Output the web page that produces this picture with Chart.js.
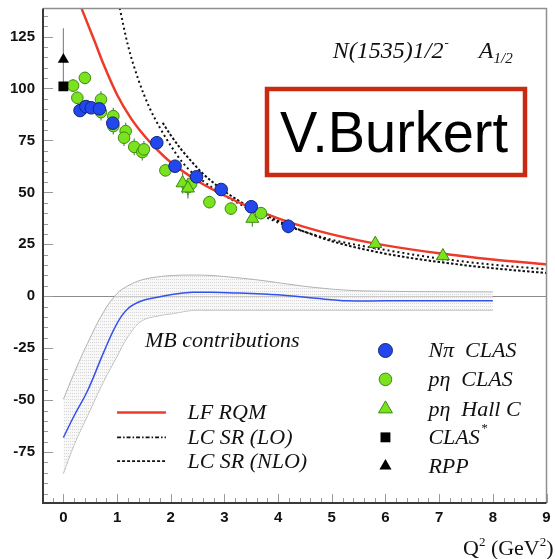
<!DOCTYPE html>
<html>
<head>
<meta charset="utf-8">
<script src="https://cdn.jsdelivr.net/npm/chart.js@4.4.1/dist/chart.umd.min.js"></script>
<style>
html, body { margin: 0; padding: 0; background: #fff; overflow: hidden; }
#wrap { width: 555px; height: 559px; }
</style>
</head>
<body>
<div id="wrap"><canvas id="a12Chart" width="555" height="559"></canvas></div>
<script>
// ===============================
//  DATA
// ===============================
// LF RQM (red solid)
const rqmQ2 = [0.30, 0.5, 0.6, 0.75, 1.0, 1.25, 1.5, 1.75, 2.0, 2.5, 3.0, 3.5, 4.0, 4.5, 5.0, 5.5, 6.0, 7.0, 8.0, 9.0];
const rqmA  = [141, 128, 121.5, 111.5, 97, 86, 77.5, 70.5, 64.5, 55.5, 48.5, 42.5, 37.5, 33.3, 29.8, 26.9, 24.5, 20.7, 17.7, 15.3];

// LC SR (LO)
const loQ2 = [1.03, 1.2, 1.4, 1.6, 1.8, 2.0, 2.2, 2.4, 2.6, 2.8, 3.0, 3.5, 4.0, 4.5, 5.0, 6.0, 7.0, 8.0, 9.0];
const loA  = [141, 121, 104, 91, 81, 72.5, 65, 59.5, 55.5, 51.8, 48.5, 41.5, 35.5, 31, 27.2, 22.3, 18.2, 15.2, 13];

// LC SR (NLO)
const nloQ2 = [1.85, 2.0, 2.2, 2.4, 2.6, 2.8, 3.0, 3.5, 4.0, 4.5, 5.0, 6.0, 7.0, 8.0, 9.0];
const nloA  = [83.5, 77.5, 70.5, 64.5, 59, 54.5, 50.5, 42.5, 36.3, 31, 26.5, 20.5, 16.5, 13.5, 11.2];

// MB contributions band
const mbQ2    = [0, 0.2, 0.45, 0.75, 1.0, 1.2, 1.45, 1.75, 2.05, 2.4, 2.75, 3.2, 3.7, 4.2, 4.7, 5.3, 6.0, 7.0, 8.0];
const mbUpper = [-49.6, -37, -22.6, -7.5, 1.3, 5, 7.8, 9.3, 10, 10.2, 10, 9, 7.6, 5.8, 4.2, 2.9, 2.4, 2.2, 2.1];
const mbMid   = [-68, -57.5, -45.5, -27, -13, -6, -2.3, -0.5, 1.0, 1.9, 1.9, 1.6, 1.1, 0.3, -1.0, -2.2, -2.2, -2.2, -2.2];
const mbLower = [-85.3, -71.5, -57.5, -41, -28.9, -19.5, -12, -9.5, -8.3, -6.8, -6.7, -6.7, -6.7, -6.7, -6.7, -6.7, -6.7, -6.7, -6.7];

// N pi CLAS
const npiQ2  = [0.31, 0.42, 0.52, 0.67, 0.92, 1.74, 2.08, 2.48, 2.94, 3.50, 4.19];
const npiA   = [89.4, 91.3, 90.7, 90.2, 83.3, 73.9, 62.6, 57.5, 51.4, 43.1, 33.7];
const npiErr = [3, 3, 3, 3, 3, 3, 3, 3, 3, 3, 3.5];

// p eta CLAS
const etaQ2  = [0.18, 0.26, 0.40, 0.70, 0.70, 0.93, 0.93, 1.16, 1.13, 1.32, 1.47, 1.50, 1.90, 2.32, 2.38, 2.72, 3.12, 3.68];
const etaA   = [101.4, 95.5, 105.1, 94.7, 88.6, 86.7, 81.9, 79.5, 76.3, 71.9, 69.4, 70.7, 60.6, 52.5, 54.2, 45.3, 42.2, 40.0];
const etaErr = [3, 3, 3, 4, 4, 4, 4, 4, 4, 4, 4, 4, 3, 4, 4, 3, 3, 3];

// p eta Hall C
const hallQ2  = [2.22, 2.32, 3.52, 5.81, 7.07];
const hallA   = [54.5, 52, 37.4, 25.3, 19.4];
const hallErr = [5, 5, 4, 3, 3];

// CLAS* and RPP at the photon point
const clasStarQ2 = [0];
const clasStarA  = [101];
const rppQ2  = [0];
const rppA   = [114];
const rppErr = [15];

// ===============================
//  HELPERS
// ===============================
const pts = (xs, ys) => xs.map((x, i) => ({ x: x, y: ys[i] }));

function makeDotPattern() {
    const c = document.createElement('canvas');
    c.width = 2; c.height = 3;
    const g = c.getContext('2d');
    g.fillStyle = 'rgba(244,244,244,0.6)';
    g.fillRect(0, 0, 2, 3);
    g.fillStyle = 'rgba(175,175,175,0.45)';
    g.fillRect(0, 0, 1, 1);
    return g.createPattern(c, 'repeat');
}

function drawMarker(ctx, style, x, y, r, fill, stroke) {
    ctx.beginPath();
    if (style === 'circle') {
        ctx.arc(x, y, r, 0, Math.PI * 2);
    } else if (style === 'triangle') {
        ctx.moveTo(x, y - r);
        ctx.lineTo(x + r * 0.866, y + r * 0.5);
        ctx.lineTo(x - r * 0.866, y + r * 0.5);
        ctx.closePath();
    } else if (style === 'rect') {
        const s = r * Math.SQRT1_2;
        ctx.rect(x - s, y - s, 2 * s, 2 * s);
    }
    ctx.fillStyle = fill;
    ctx.fill();
    if (stroke) {
        ctx.strokeStyle = stroke;
        ctx.lineWidth = 1;
        ctx.stroke();
    }
}

const SERIF_I = 'italic 22px "Liberation Serif", "DejaVu Serif", serif';
const SERIF = '22px "Liberation Serif", "DejaVu Serif", serif';

// ===============================
//  PLUGIN: error bars, zero line
// ===============================
const underlay = {
    id: 'underlay',
    beforeDatasetsDraw(chart) {
        const { ctx, chartArea: a, scales: { x, y } } = chart;
        ctx.save();
        const y0 = Math.round(y.getPixelForValue(0)) + 0.5;
        ctx.strokeStyle = '#8c8c8c';
        ctx.lineWidth = 1;
        ctx.beginPath();
        ctx.moveTo(a.left, y0);
        ctx.lineTo(a.right, y0);
        ctx.stroke();

        const bars = [
            [npiQ2, npiA, npiErr, 'rgba(90,90,90,0.8)'],
            [etaQ2, etaA, etaErr, 'rgba(60,120,40,0.85)'],
            [hallQ2, hallA, hallErr, 'rgba(60,120,40,0.85)'],
            [rppQ2, rppA, rppErr, '#8a8a8a']
        ];
        bars.forEach(([xs, ys, es, col]) => {
            ctx.strokeStyle = col;
            ctx.lineWidth = 1.2;
            xs.forEach((q, i) => {
                const px = x.getPixelForValue(q);
                ctx.beginPath();
                ctx.moveTo(px, y.getPixelForValue(ys[i] - es[i]));
                ctx.lineTo(px, y.getPixelForValue(ys[i] + es[i]));
                ctx.stroke();
            });
        });
        ctx.restore();
    }
};

// ===============================
//  PLUGIN: frame, ticks, texts, legend
// ===============================
const overlay = {
    id: 'overlay',
    afterDraw(chart) {
        const { ctx, chartArea: a, scales: { x, y } } = chart;
        const X = v => x.getPixelForValue(v);
        const Y = v => y.getPixelForValue(v);
        ctx.save();

        // inward tick marks
        ctx.strokeStyle = '#9a9a9a';
        ctx.lineWidth = 1;
        ctx.beginPath();
        for (let k = Math.ceil(y.min / 5); k * 5 <= y.max; k++) {
            const py = Math.round(Y(k * 5)) + 0.5;
            const len = (k % 5 === 0) ? 10 : 5;
            ctx.moveTo(a.left, py);
            ctx.lineTo(a.left + len, py);
        }
        for (let k = Math.ceil(x.min / 0.2); k * 0.2 <= x.max + 1e-9; k++) {
            const px = Math.round(X(k * 0.2)) + 0.5;
            const len = (k % 5 === 0) ? 9 : 5;
            ctx.moveTo(px, a.bottom);
            ctx.lineTo(px, a.bottom - len);
        }
        ctx.stroke();

        // frame
        ctx.strokeStyle = '#8f8f8f';
        ctx.lineWidth = 1.5;
        ctx.beginPath();
        ctx.moveTo(a.left, a.top);
        ctx.lineTo(a.right, a.top);
        ctx.lineTo(a.right, a.bottom);
        ctx.stroke();
        ctx.strokeStyle = '#3a3a3a';
        ctx.lineWidth = 2;
        ctx.beginPath();
        ctx.moveTo(a.left, a.top);
        ctx.lineTo(a.left, a.bottom);
        ctx.lineTo(a.right, a.bottom);
        ctx.stroke();

        ctx.fillStyle = '#111';
        ctx.textBaseline = 'alphabetic';
        ctx.textAlign = 'left';

        // title
        let tx = X(5.02), ty = Y(114.9);
        ctx.font = 'italic 24px "Liberation Serif", "DejaVu Serif", serif';
        ctx.fillText('N(1535)1/2', tx, ty);
        tx += ctx.measureText('N(1535)1/2').width + 1;
        ctx.font = 'italic 13px "Liberation Serif", serif';
        ctx.fillText('-', tx, ty - 11);
        ctx.font = 'italic 24px "Liberation Serif", "DejaVu Serif", serif';
        tx = X(7.74);
        ctx.fillText('A', tx, ty);
        tx += ctx.measureText('A').width;
        ctx.font = 'italic 15px "Liberation Serif", serif';
        ctx.fillText('1/2', tx, ty + 5);

        // V.Burkert box
        ctx.strokeStyle = '#c92a12';
        ctx.lineWidth = 4.5;
        ctx.strokeRect(267, 89, 258, 86);
        ctx.fillStyle = '#000';
        ctx.font = '57px "Liberation Sans", Arial, sans-serif';
        ctx.fillText('V.Burkert', 280, 152, 228);

        // MB contributions
        ctx.fillStyle = '#111';
        ctx.font = SERIF_I;
        ctx.textBaseline = 'middle';
        ctx.fillText('MB contributions', X(1.52), Y(-21.8));

        // left legend (lines)
        const lineRows = [
            ['LF RQM', -55.9, '#ee3a2a', [], 2.5],
            ['LC SR (LO)', -67.9, '#111', [4, 2, 1.5, 2], 1.8],
            ['LC SR (NLO)', -79.3, '#111', [3, 2], 1.8]
        ];
        lineRows.forEach(([lab, v, col, dash, w]) => {
            ctx.strokeStyle = col;
            ctx.lineWidth = w;
            ctx.setLineDash(dash);
            ctx.beginPath();
            ctx.moveTo(X(1.0), Y(v));
            ctx.lineTo(X(1.91), Y(v));
            ctx.stroke();
            ctx.setLineDash([]);
            ctx.fillStyle = '#111';
            ctx.font = SERIF_I;
            ctx.fillText(lab, X(2.31), Y(v) + 1);
        });

        // right legend (markers)
        const mRows = [
            ['N\u03c0  CLAS', -26.1, 'circle', 7, '#2247ee', '#14257a'],
            ['p\u03b7  CLAS', -40, 'circle', 6.3, '#7be21e', '#3c8a14'],
            ['p\u03b7  Hall C', -54.2, 'triangle', 8, '#7be21e', '#3c8a14'],
            ['CLAS', -67.9, 'rect', 7, '#000', null],
            ['RPP', -81.7, 'triangle', 7, '#000', null]
        ];
        mRows.forEach(([lab, v, st, r, fill, stroke]) => {
            drawMarker(ctx, st, X(6.0), Y(v), r, fill, stroke);
            ctx.fillStyle = '#111';
            ctx.font = SERIF_I;
            ctx.fillText(lab, X(6.8), Y(v) + 1);
            if (lab === 'CLAS') {
                const w = ctx.measureText(lab).width;
                ctx.font = 'italic 13px "Liberation Serif", serif';
                ctx.fillText('*', X(6.8) + w + 1, Y(v) - 9);
            }
        });

        // axis title Q^2 (GeV^2)
        ctx.textBaseline = 'alphabetic';
        let ax = 463, ay = 555;
        const big = SERIF, small = '13px "Liberation Serif", serif';
        [['Q', big, 0], ['2', small, -9], [' (GeV', big, 0], ['2', small, -9], [')', big, 0]].forEach(([s, f, dy]) => {
            ctx.font = f;
            ctx.fillText(s, ax, ay + dy);
            ax += ctx.measureText(s).width;
        });

        ctx.restore();
    }
};

// ===============================
//  CHART
// ===============================
const dotPattern = makeDotPattern();
const tickFont = { family: '"Liberation Sans", Arial, sans-serif', weight: 'bold', size: 15 };

new Chart(document.getElementById('a12Chart'), {
    type: 'line',
    data: {
        datasets: [
            {
                label: 'N\u03c0 CLAS', data: pts(npiQ2, npiA), showLine: false, order: 0,
                pointStyle: 'circle', pointRadius: 6.3, pointBackgroundColor: '#2247ee',
                pointBorderColor: '#14257a', pointBorderWidth: 1
            },
            {
                label: 'p\u03b7 Hall C', data: pts(hallQ2, hallA), showLine: false, order: 1,
                pointStyle: 'triangle', pointRadius: 7.5, pointBackgroundColor: '#7be21e',
                pointBorderColor: '#3c8a14', pointBorderWidth: 1
            },
            {
                label: 'p\u03b7 CLAS', data: pts(etaQ2, etaA), showLine: false, order: 2,
                pointStyle: 'circle', pointRadius: 5.8, pointBackgroundColor: '#7be21e',
                pointBorderColor: '#3c8a14', pointBorderWidth: 1
            },
            {
                label: 'CLAS*', data: pts(clasStarQ2, clasStarA), showLine: false, order: 0,
                pointStyle: 'rect', pointRadius: 7, pointBackgroundColor: '#000',
                pointBorderColor: '#000', pointBorderWidth: 0
            },
            {
                label: 'RPP', data: pts(rppQ2, rppA), showLine: false, order: 0,
                pointStyle: 'triangle', pointRadius: 6.5, pointBackgroundColor: '#000',
                pointBorderColor: '#000', pointBorderWidth: 0
            },
            {
                label: 'LF RQM', data: pts(rqmQ2, rqmA), order: 3,
                borderColor: '#ee3a2a', borderWidth: 2.5, pointRadius: 0,
                cubicInterpolationMode: 'monotone', fill: false
            },
            {
                label: 'LC SR (LO)', data: pts(loQ2, loA), order: 4,
                borderColor: '#111', borderWidth: 2, borderDash: [2, 3], pointRadius: 0,
                cubicInterpolationMode: 'monotone', fill: false
            },
            {
                label: 'LC SR (NLO)', data: pts(nloQ2, nloA), order: 4,
                borderColor: '#111', borderWidth: 2, borderDash: [2.5, 2], pointRadius: 0,
                cubicInterpolationMode: 'monotone', fill: false
            },
            {
                label: 'MB central', data: pts(mbQ2, mbMid), order: 5,
                borderColor: '#3552ee', borderWidth: 1.5, pointRadius: 0,
                tension: 0.4, fill: false
            },
            {
                label: 'MB upper', data: pts(mbQ2, mbUpper), order: 6,
                borderColor: '#b0b0b0', borderWidth: 1, pointRadius: 0,
                tension: 0.4, fill: '+1', backgroundColor: dotPattern
            },
            {
                label: 'MB lower', data: pts(mbQ2, mbLower), order: 6,
                borderColor: '#b0b0b0', borderWidth: 1, pointRadius: 0,
                tension: 0.4, fill: false
            }
        ]
    },
    options: {
        responsive: false,
        animation: false,
        devicePixelRatio: 1,
        layout: { padding: { top: 8, right: 2, left: 0, bottom: 0 } },
        plugins: { legend: { display: false }, tooltip: { enabled: false } },
        scales: {
            x: {
                type: 'linear', min: -0.38, max: 9,
                grid: { display: false, drawTicks: false },
                border: { display: false },
                ticks: { stepSize: 1, includeBounds: false, padding: 6, color: '#111', font: tickFont, maxRotation: 0, autoSkip: false },
                afterFit(s) { s.height = 56; s.paddingLeft = 0; s.paddingRight = 0; }
            },
            y: {
                type: 'linear', min: -99.5, max: 138.5,
                grid: { display: false, drawTicks: false },
                border: { display: false },
                ticks: { stepSize: 25, includeBounds: false, padding: 8, color: '#111', font: tickFont },
                afterFit(s) { s.width = 43; s.paddingTop = 0; s.paddingBottom = 0; }
            }
        }
    },
    plugins: [underlay, overlay]
});
</script>
</body>
</html>
